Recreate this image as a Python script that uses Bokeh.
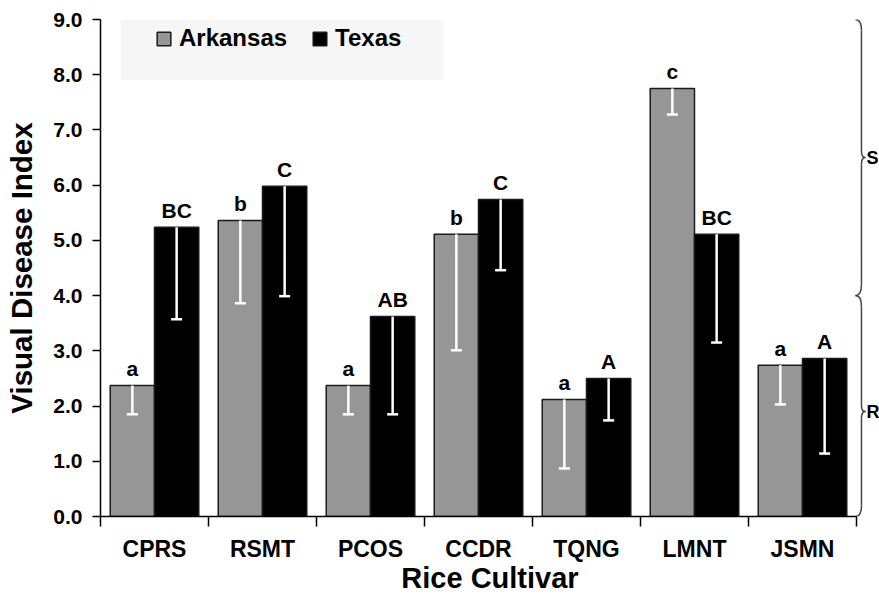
import numpy as np
from bokeh.plotting import figure
from bokeh.models import (ColumnDataSource, FixedTicker, Range1d, BoxAnnotation,
                          Legend, LegendItem, NumeralTickFormatter)
from bokeh.core.properties import value
from bokeh.embed import file_html
from bokeh.resources import INLINE

FONT = "Liberation Sans"

# ---------------- data ----------------
cultivars = ["CPRS", "RSMT", "PCOS", "CCDR", "TQNG", "LMNT", "JSMN"]
ark_mean = [2.37, 5.36, 2.37, 5.11, 2.12, 7.75, 2.74]
ark_low = [1.85, 3.86, 1.85, 3.01, 0.87, 7.28, 2.03]
tex_mean = [5.24, 5.98, 3.62, 5.74, 2.50, 5.11, 2.86]
tex_low = [3.57, 3.99, 1.85, 4.46, 1.74, 3.15, 1.14]
ark_letters = ["a", "b", "a", "b", "a", "c", "a"]
tex_letters = ["BC", "C", "AB", "C", "A", "BC", "A"]
y_ticks = [0, 1, 2, 3, 4, 5, 6, 7, 8, 9]
series_names = ["Arkansas", "Texas"]
brace_groups = [("S", 4.0, 9.0, 6.5), ("R", 0.0, 4.0, 1.9)]

# ---------------- layout constants ----------------
BAR_W = 0.41
X_END = 7.213
GREY = "#969696"

n = len(cultivars)
centers = np.arange(n) + 0.5
boundaries = list(np.arange(n + 1).astype(float))

src_ark = ColumnDataSource(dict(x=centers - BAR_W / 2, top=ark_mean, low=ark_low, lab=ark_letters))
src_tex = ColumnDataSource(dict(x=centers + BAR_W / 2, top=tex_mean, low=tex_low, lab=tex_letters))

p = figure(width=879, height=603, x_range=Range1d(0, X_END), y_range=Range1d(0, 9),
           output_backend="svg", toolbar_location=None,
           min_border_left=100, min_border_right=0, min_border_top=19, min_border_bottom=87)
p.background_fill_color = "white"
p.border_fill_color = "white"
p.outline_line_color = None
p.xgrid.grid_line_color = None
p.ygrid.grid_line_color = None

# faint legend background box
p.add_layout(BoxAnnotation(left=0.185, right=3.176, bottom=7.9, top=9.0,
                           fill_color="#f6f6f6", fill_alpha=1.0, line_color=None,
                           level="underlay"))

r_ark = p.vbar(x="x", top="top", width=BAR_W, source=src_ark,
               fill_color=GREY, line_color="#1a1a1a", line_width=1.5)
r_tex = p.vbar(x="x", top="top", width=BAR_W, source=src_tex,
               fill_color="black", line_color="#1a1a1a", line_width=1.5)

for src in (src_ark, src_tex):
    p.segment(x0="x", y0="top", x1="x", y1="low", source=src,
              line_color="white", line_width=2.5)
    p.scatter(x="x", y="low", source=src, marker="dash", size=11,
              line_color="white", line_width=2.5)
    p.text(x="x", y="top", text="lab", source=src, text_align="center",
           text_baseline="alphabetic", y_offset=-17,
           text_font=value(FONT), text_font_style="bold", text_font_size="21px",
           text_color="black")

# braces on right side
XB, XE, XT, RY, TY = 7.046, 6.99, 7.083, 0.2, 0.12
qx0, qy0, qx1, qy1, qcx, qcy = [], [], [], [], [], []
sx0, sy0, sx1, sy1 = [], [], [], []
lab_x, lab_y, lab_t = [], [], []
for name, lo, hi, mid in brace_groups:
    for (a, b, c) in [((XE, hi), (XB, hi - RY), (XB, hi)),
                      ((XB, mid + TY), (XT, mid), (XB, mid)),
                      ((XT, mid), (XB, mid - TY), (XB, mid)),
                      ((XB, lo + RY), (XE, lo), (XB, lo))]:
        qx0.append(a[0]); qy0.append(a[1]); qx1.append(b[0]); qy1.append(b[1])
        qcx.append(c[0]); qcy.append(c[1])
    for (a, b) in [((XB, hi - RY), (XB, mid + TY)), ((XB, mid - TY), (XB, lo + RY))]:
        sx0.append(a[0]); sy0.append(a[1]); sx1.append(b[0]); sy1.append(b[1])
    lab_x.append(7.093); lab_y.append(mid); lab_t.append(name)
p.quadratic(x0=qx0, y0=qy0, x1=qx1, y1=qy1, cx=qcx, cy=qcy, line_color="#444444", line_width=1.5)
p.segment(x0=sx0, y0=sy0, x1=sx1, y1=sy1, line_color="#444444", line_width=1.5)
p.text(x=lab_x, y=lab_y, text=lab_t, text_align="left", text_baseline="middle",
       text_font=value(FONT), text_font_style="bold", text_font_size="18px", text_color="black")

# axes
xa = p.xaxis[0]
xa.ticker = FixedTicker(ticks=list(centers), minor_ticks=boundaries)
xa.major_label_overrides = {float(c): name for c, name in zip(centers, cultivars)}
xa.bounds = (0, n)
xa.major_tick_out = 0
xa.major_tick_in = 0
xa.minor_tick_out = 10
xa.minor_tick_in = 0
xa.minor_tick_line_color = "black"
xa.minor_tick_line_width = 1.5
xa.axis_line_color = "black"
xa.axis_line_width = 1.5
xa.major_label_standoff = 9
xa.major_label_text_font = FONT
xa.major_label_text_font_style = "bold"
xa.major_label_text_font_size = "23px"
xa.major_label_text_color = "black"
xa.axis_label = "Rice Cultivar"
xa.axis_label_text_font = FONT
xa.axis_label_text_font_style = "bold"
xa.axis_label_text_font_size = "29px"
xa.axis_label_text_color = "black"
xa.axis_label_standoff = -3

ya = p.yaxis[0]
ya.ticker = FixedTicker(ticks=y_ticks, minor_ticks=[])
ya.formatter = NumeralTickFormatter(format="0.0")
ya.major_tick_out = 8
ya.major_tick_in = 0
ya.major_tick_line_color = "black"
ya.major_tick_line_width = 1.5
ya.axis_line_color = "black"
ya.axis_line_width = 1.5
ya.major_label_standoff = 10
ya.major_label_text_font = FONT
ya.major_label_text_font_style = "bold"
ya.major_label_text_font_size = "21px"
ya.major_label_text_color = "black"
ya.axis_label = "Visual Disease Index"
ya.axis_label_text_font = FONT
ya.axis_label_text_font_style = "bold"
ya.axis_label_text_font_size = "29.5px"
ya.axis_label_text_color = "black"
ya.axis_label_standoff = 12

legend = Legend(items=[LegendItem(label=series_names[0], renderers=[r_ark]),
                       LegendItem(label=series_names[1], renderers=[r_tex])],
                orientation="horizontal", location=(55, 464),
                label_text_font=FONT, label_text_font_style="bold",
                label_text_font_size="24px", label_text_color="black",
                label_standoff=7, spacing=24, glyph_width=17, glyph_height=17,
                padding=0, margin=0, background_fill_alpha=0.0, border_line_color=None)
p.add_layout(legend)

open("out.html", "w").write(file_html(p, INLINE))
